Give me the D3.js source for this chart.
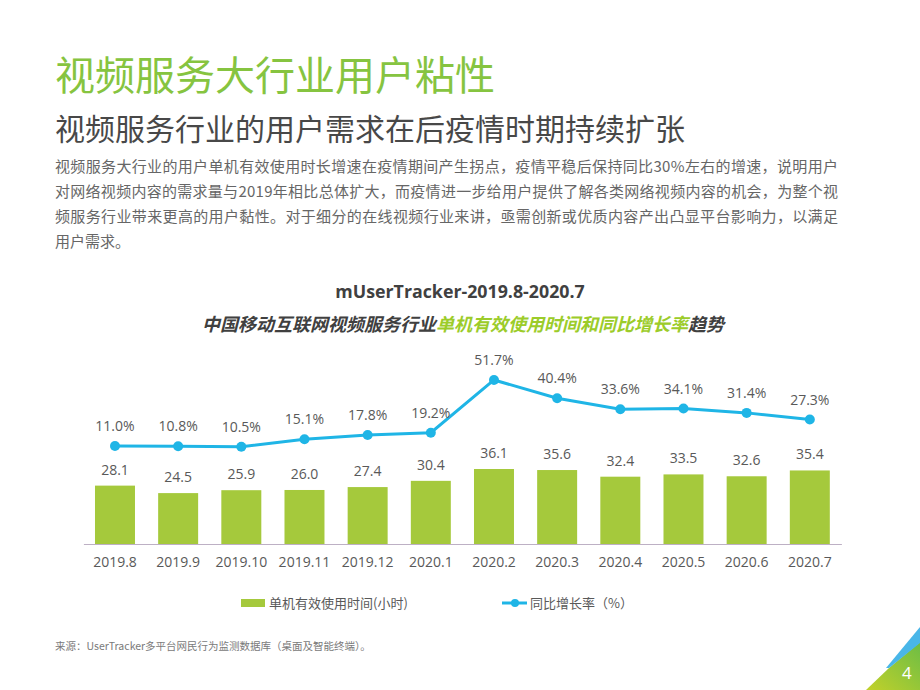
<!DOCTYPE html>
<html><head><meta charset="utf-8">
<script src="https://cdn.jsdelivr.net/npm/d3@7"></script>
<style>
html,body{margin:0;padding:0;background:#fff;}
svg{display:block;}
</style></head>
<body>
<svg id="c" width="920" height="690"></svg>
<script>
const categories = ["2019.8","2019.9","2019.10","2019.11","2019.12","2020.1","2020.2","2020.3","2020.4","2020.5","2020.6","2020.7"];
const hours = [28.1,24.5,25.9,26.0,27.4,30.4,36.1,35.6,32.4,33.5,32.6,35.4];
const growth = [11.0,10.8,10.5,15.1,17.8,19.2,51.7,40.4,33.6,34.1,31.4,27.3];
const legendLabels = ["单机有效使用时间(小时)","同比增长率（%）"];
const paragraph = [
 "视频服务大行业的用户单机有效使用时长增速在疫情期间产生拐点，疫情平稳后保持同比30%左右的增速，说明用户",
 "对网络视频内容的需求量与2019年相比总体扩大，而疫情进一步给用户提供了解各类网络视频内容的机会，为整个视",
 "频服务行业带来更高的用户黏性。对于细分的在线视频行业来讲，亟需创新或优质内容产出凸显平台影响力，以满足",
 "用户需求。"
];

const CJK = "'Noto Sans CJK SC','Noto Sans',sans-serif";
const NUM = "'Open Sans','Noto Sans',sans-serif";
const barColor = "#a5c93c", lineColor = "#1fb5e6", green = "#86c440", txt = "#595959";

const svg = d3.select("#c");

// Headings
svg.append("text").attr("x",55).attr("y",90).attr("font-family",CJK).attr("font-size",40)
  .attr("fill",green).text("视频服务大行业用户粘性");
svg.append("text").attr("x",55).attr("y",140).attr("font-family",CJK).attr("font-size",30)
  .attr("fill","#484848").text("视频服务行业的用户需求在后疫情时期持续扩张");

paragraph.forEach((line,i)=>{
  const t = svg.append("text").attr("x",55).attr("y",172+i*25).attr("font-family",CJK)
    .attr("font-size",15).attr("fill","#666").text(line);
  if(i<3) t.attr("textLength",783).attr("lengthAdjust","spacing");
});

// Chart titles
svg.append("text").attr("x",460).attr("y",298).attr("text-anchor","middle").attr("font-family",NUM)
  .attr("font-size",17.8).attr("font-weight","bold").attr("fill","#404040").text("mUserTracker-2019.8-2020.7");
const t2 = svg.append("text").attr("x",463).attr("y",331).attr("text-anchor","middle").attr("font-family",CJK)
  .attr("font-size",18).attr("font-weight","bold").attr("font-style","italic");
t2.append("tspan").attr("fill","#404040").text("中国移动互联网视频服务行业");
t2.append("tspan").attr("fill","#9ccc2a").text("单机有效使用时间和同比增长率");
t2.append("tspan").attr("fill","#404040").text("趋势");

// Scales
const x = d3.scaleBand().domain(categories).range([83.4,841.4]).paddingInner(0.367).paddingOuter(0.1835);
const yBar = d3.scaleLinear().domain([0,40]).range([544,460.9]);
const yLine = d3.scaleLinear().domain([0,60]).range([463.8,366.5]);

// Bars
svg.append("g").selectAll("rect").data(hours).join("rect")
  .attr("x",(d,i)=>x(categories[i])).attr("width",x.bandwidth())
  .attr("y",d=>yBar(d)).attr("height",d=>yBar(0)-yBar(d)).attr("fill",barColor);
svg.append("g").selectAll("text").data(hours).join("text")
  .attr("x",(d,i)=>x(categories[i])+x.bandwidth()/2).attr("y",d=>yBar(d)-11)
  .attr("text-anchor","middle").attr("font-family",NUM).attr("font-size",14).attr("fill",txt)
  .text(d=>d.toFixed(1));

// Axis
const ax = svg.append("g").attr("transform","translate(0,544)")
  .call(d3.axisBottom(x).tickSize(0).tickPadding(13));
ax.select(".domain").attr("stroke","#bdb0c4").attr("stroke-width",1);
ax.selectAll("text").attr("font-family",NUM).attr("font-size",14).attr("fill",txt);

// Line
const cx = (d,i)=>x(categories[i])+x.bandwidth()/2;
const line = d3.line().x(cx).y(d=>yLine(d));
svg.append("path").datum(growth).attr("d",line).attr("fill","none").attr("stroke",lineColor).attr("stroke-width",3);
svg.append("g").selectAll("circle").data(growth).join("circle")
  .attr("cx",cx).attr("cy",d=>yLine(d)).attr("r",5).attr("fill",lineColor);
svg.append("g").selectAll("text").data(growth).join("text")
  .attr("x",cx).attr("y",d=>yLine(d)-15).attr("text-anchor","middle")
  .attr("font-family",NUM).attr("font-size",14).attr("fill",txt).text(d=>d.toFixed(1)+"%");

// Legend
svg.append("rect").attr("x",241).attr("y",599).attr("width",24).attr("height",8).attr("fill",barColor);
svg.append("text").attr("x",269).attr("y",608).attr("font-family",CJK).attr("font-size",13).attr("fill",txt).text(legendLabels[0]);
svg.append("line").attr("x1",502).attr("x2",527).attr("y1",603).attr("y2",603).attr("stroke",lineColor).attr("stroke-width",3);
svg.append("circle").attr("cx",515).attr("cy",603).attr("r",4).attr("fill",lineColor);
svg.append("text").attr("x",530).attr("y",608).attr("font-family",CJK).attr("font-size",13).attr("fill",txt).text(legendLabels[1]);

// Footer
svg.append("text").attr("x",55).attr("y",650).attr("font-family",CJK).attr("font-size",10.5).attr("fill","#7a7a7a")
  .text("来源：UserTracker多平台网民行为监测数据库（桌面及智能终端）。");

// Corner decoration
const defs = svg.append("defs");
const g = defs.append("linearGradient").attr("id","cg").attr("x1","0").attr("y1","1").attr("x2","1").attr("y2","0");
g.append("stop").attr("offset","0").attr("stop-color","#c2d12a");
g.append("stop").attr("offset","1").attr("stop-color","#6cbd45");
svg.append("polygon").attr("points","866,690 889,668 920,642 920,690").attr("fill","url(#cg)");
svg.append("polygon").attr("points","886,668 920,627 920,643 889,668").attr("fill","#49b6e8");
svg.append("text").attr("x",902).attr("y",679).attr("font-family",NUM).attr("font-size",17).attr("fill","#fff").text("4");
</script>
</body></html>
